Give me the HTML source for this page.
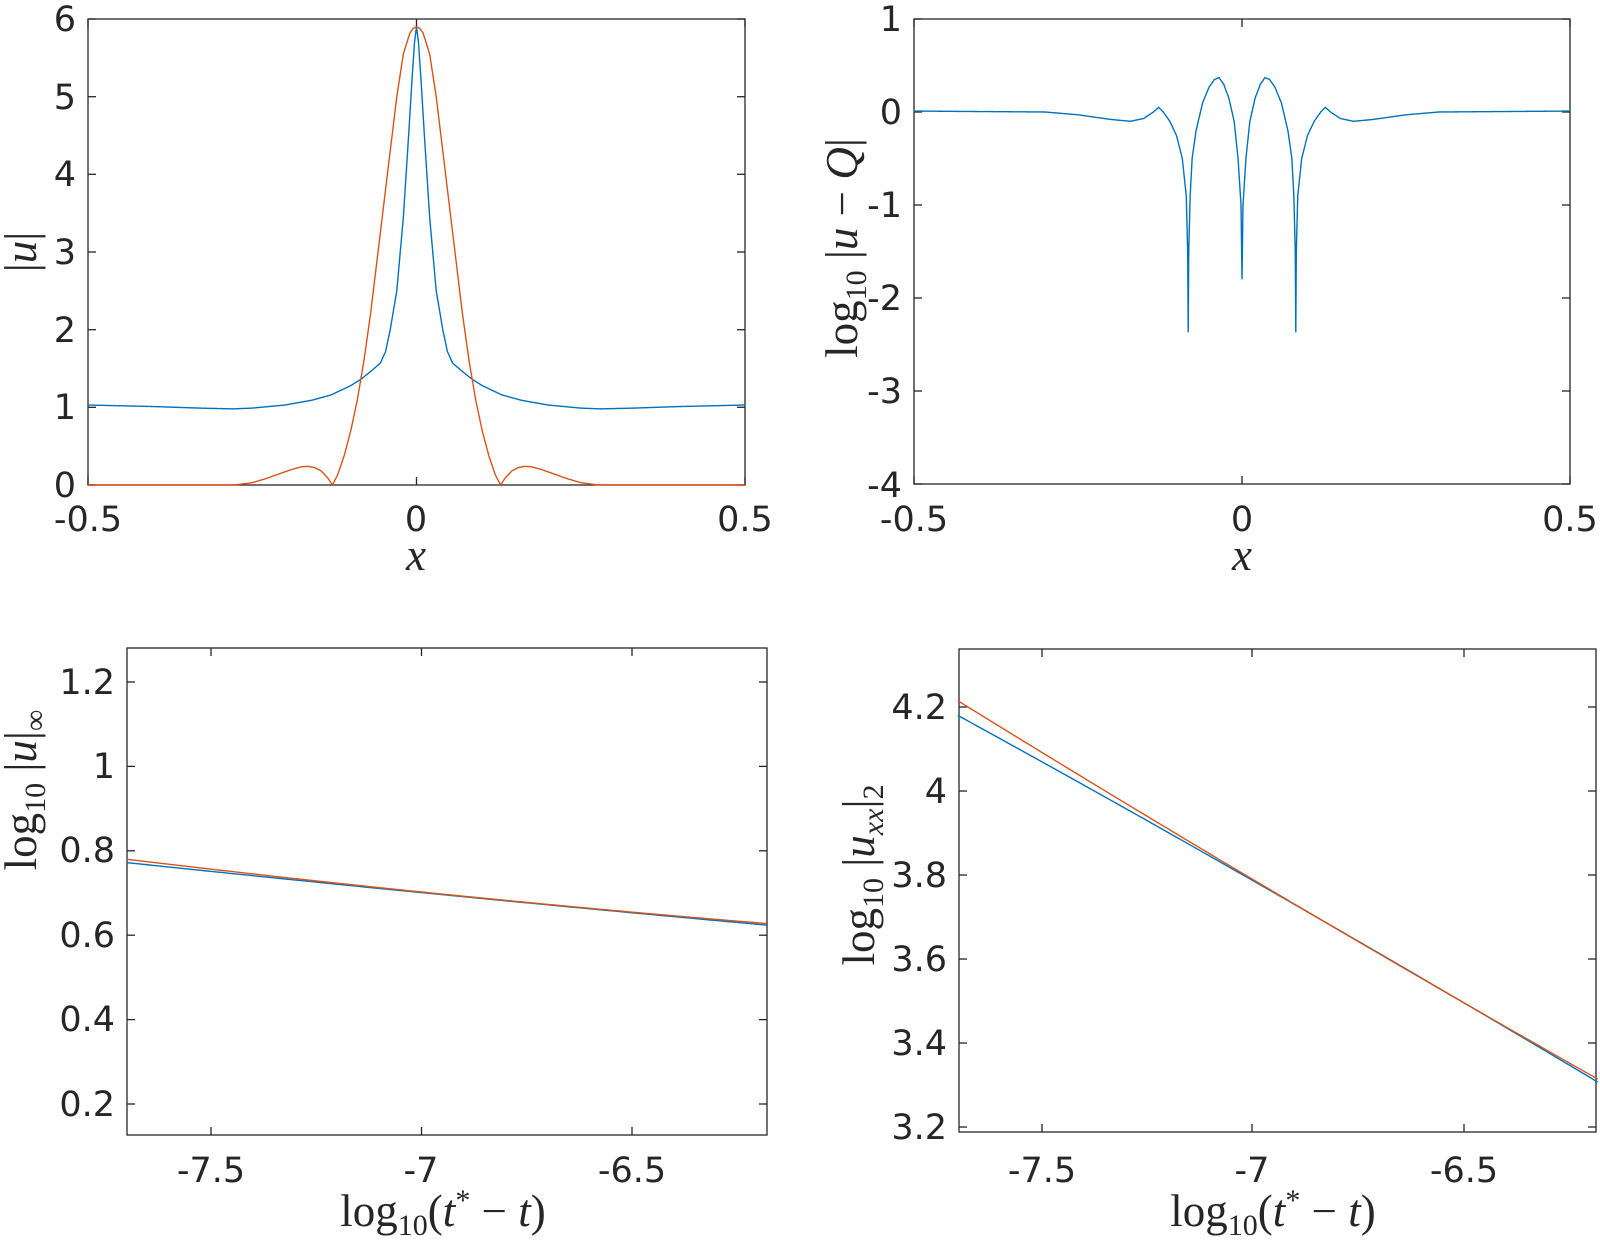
<!DOCTYPE html>
<html><head><meta charset="utf-8"><style>
html,body{margin:0;padding:0;background:#fff;}
svg{display:block;}
.t{font-family:"DejaVu Sans","Liberation Sans",sans-serif;font-size:35px;fill:#262626;}
.m{font-family:"Liberation Serif",serif;font-size:45px;fill:#262626;}
</style></head><body>
<svg id="s" width="1600" height="1242" viewBox="0 0 1600 1242" xmlns="http://www.w3.org/2000/svg">
<g class="t">
<text x="76" y="31" text-anchor="end">6</text>
<text x="76" y="109" text-anchor="end">5</text>
<text x="76" y="186" text-anchor="end">4</text>
<text x="76" y="264" text-anchor="end">3</text>
<text x="76" y="342" text-anchor="end">2</text>
<text x="76" y="419" text-anchor="end">1</text>
<text x="76" y="497" text-anchor="end">0</text>
<text x="88" y="531" text-anchor="middle">-0.5</text>
<text x="416" y="531" text-anchor="middle">0</text>
<text x="745" y="531" text-anchor="middle">0.5</text>
</g>
<text class="m" x="416" y="570" text-anchor="middle" font-style="italic">x</text>
<text class="m" transform="translate(36,252) rotate(-90)" text-anchor="middle">|<tspan font-style="italic">u</tspan>|</text>
<g class="t">
<text x="902" y="31" text-anchor="end">1</text>
<text x="902" y="124" text-anchor="end">0</text>
<text x="902" y="217" text-anchor="end">-1</text>
<text x="902" y="310" text-anchor="end">-2</text>
<text x="902" y="403" text-anchor="end">-3</text>
<text x="902" y="497" text-anchor="end">-4</text>
<text x="914" y="531" text-anchor="middle">-0.5</text>
<text x="1242" y="531" text-anchor="middle">0</text>
<text x="1570" y="531" text-anchor="middle">0.5</text>
</g>
<text class="m" x="1242" y="570" text-anchor="middle" font-style="italic">x</text>
<text class="m" transform="translate(857,248) rotate(-90)" text-anchor="middle">log<tspan font-size="30" dy="9">10</tspan><tspan dy="-9"> |</tspan><tspan font-style="italic">u</tspan> − <tspan font-style="italic">Q</tspan>|</text>
<g class="t">
<text x="115" y="694" text-anchor="end">1.2</text>
<text x="115" y="778" text-anchor="end">1</text>
<text x="115" y="862" text-anchor="end">0.8</text>
<text x="115" y="947" text-anchor="end">0.6</text>
<text x="115" y="1031" text-anchor="end">0.4</text>
<text x="115" y="1116" text-anchor="end">0.2</text>
<text x="211" y="1182" text-anchor="middle">-7.5</text>
<text x="421" y="1182" text-anchor="middle">-7</text>
<text x="632" y="1182" text-anchor="middle">-6.5</text>
</g>
<text class="m" x="443" y="1226" text-anchor="middle">log<tspan font-size="30" dy="9">10</tspan><tspan dy="-9">(</tspan><tspan font-style="italic">t</tspan><tspan font-size="30" dy="-16">*</tspan><tspan dy="16"> − </tspan><tspan font-style="italic">t</tspan>)</text>
<text class="m" transform="translate(36,790) rotate(-90)" text-anchor="middle">log<tspan font-size="30" dy="9">10</tspan><tspan dy="-9"> |</tspan><tspan font-style="italic">u</tspan>|<tspan font-size="30" dy="9">∞</tspan></text>
<g class="t">
<text x="947" y="719" text-anchor="end">4.2</text>
<text x="947" y="803" text-anchor="end">4</text>
<text x="947" y="887" text-anchor="end">3.8</text>
<text x="947" y="971" text-anchor="end">3.6</text>
<text x="947" y="1055" text-anchor="end">3.4</text>
<text x="947" y="1139" text-anchor="end">3.2</text>
<text x="1042" y="1182" text-anchor="middle">-7.5</text>
<text x="1252" y="1182" text-anchor="middle">-7</text>
<text x="1464" y="1182" text-anchor="middle">-6.5</text>
</g>
<text class="m" x="1273" y="1226" text-anchor="middle">log<tspan font-size="30" dy="9">10</tspan><tspan dy="-9">(</tspan><tspan font-style="italic">t</tspan><tspan font-size="30" dy="-16">*</tspan><tspan dy="16"> − </tspan><tspan font-style="italic">t</tspan>)</text>
<text class="m" transform="translate(874,875) rotate(-90)" text-anchor="middle">log<tspan font-size="30" dy="9">10</tspan><tspan dy="-9"> |</tspan><tspan font-style="italic">u</tspan><tspan font-size="30" font-style="italic" dy="9">xx</tspan><tspan dy="-9">|</tspan><tspan font-size="30" dy="9">2</tspan></text>
<g id="plots"></g>
</svg>
<script>
const NS="http://www.w3.org/2000/svg";
const G=document.getElementById("plots");
function el(t,a){const e=document.createElementNS(NS,t);for(const k in a)e.setAttribute(k,a[k]);G.appendChild(e);return e;}
function axes(L,R,T,B,xt,yt){
 el("rect",{x:L,y:T,width:R-L,height:B-T,fill:"none",stroke:"#262626","stroke-width":1.3});
 xt.forEach(x=>{el("line",{x1:x,x2:x,y1:B,y2:B-8,stroke:"#262626","stroke-width":1.3});el("line",{x1:x,x2:x,y1:T,y2:T+8,stroke:"#262626","stroke-width":1.3});});
 yt.forEach(y=>{el("line",{x1:L,x2:L+8,y1:y,y2:y,stroke:"#262626","stroke-width":1.3});el("line",{x1:R,x2:R-8,y1:y,y2:y,stroke:"#262626","stroke-width":1.3});});
}
function interp(pts,x){const a=Math.abs(x);for(let i=1;i<pts.length;i++){if(a<=pts[i][0]){const p=pts[i-1],q=pts[i];return p[1]+(q[1]-p[1])*(a-p[0])/(q[0]-p[0]);}}return pts[pts.length-1][1];}
function curve(fx,fy,pts,col){let d="";for(let i=0;i<=4000;i++){const x=-0.5+i/4000;const y=interp(pts,x);d+=(i?"L":"M")+fx(x).toFixed(2)+","+fy(y).toFixed(2);}el("path",{d:d,fill:"none",stroke:col,"stroke-width":1.4});}
const BLUE="#0072BD",RED="#D95319";
axes(88,745,19,485,[88,416.5,745],[19,96.7,174.3,252,329.7,407.3,485]);
{const fx=x=>88+(x+0.5)*657, fy=y=>485-y*77.67;
curve(fx,fy,[[0,5.9],[0.003,5.7],[0.007,5.2],[0.012,4.5],[0.02,3.45],[0.03,2.5],[0.04,2.0],[0.047,1.72],[0.055,1.57],[0.07,1.46],[0.085,1.36],[0.1,1.28],[0.13,1.16],[0.16,1.09],[0.2,1.03],[0.25,0.99],[0.28,0.98],[0.33,0.99],[0.4,1.01],[0.5,1.03]],BLUE);
curve(fx,fy,[[0,5.9],[0.005,5.88],[0.01,5.82],[0.02,5.55],[0.03,5.0],[0.04,4.3],[0.05,3.6],[0.06,2.9],[0.07,2.2],[0.08,1.6],[0.09,1.1],[0.1,0.7],[0.11,0.38],[0.12,0.13],[0.128,0],[0.135,0.09],[0.145,0.18],[0.155,0.225],[0.165,0.24],[0.175,0.235],[0.19,0.2],[0.21,0.14],[0.23,0.08],[0.25,0.03],[0.27,0.007],[0.28,0],[0.5,0]],RED);}
axes(914,1570,19,484,[914,1242,1570],[19,112,205,298,391,484]);
{const fx=x=>914+(x+0.5)*656, fy=y=>112-y*93;
curve(fx,fy,[[0,-1.8],[0.0015,-1.0],[0.006,-0.5],[0.012,-0.1],[0.02,0.15],[0.028,0.3],[0.035,0.37],[0.042,0.35],[0.05,0.27],[0.06,0.1],[0.07,-0.2],[0.076,-0.5],[0.079,-0.9],[0.0812,-1.5],[0.082,-2.37],[0.0828,-1.5],[0.085,-0.9],[0.091,-0.5],[0.1,-0.25],[0.11,-0.1],[0.12,0.0],[0.127,0.05],[0.135,0.0],[0.15,-0.07],[0.17,-0.1],[0.2,-0.08],[0.25,-0.03],[0.3,0.0],[0.5,0.01]],BLUE);}
axes(127,767,648,1135,[211,421.5,632],[682,766.4,850.8,935.2,1019.6,1104]);
{const fx=v=>211+(v+7.5)*421, fy=y=>682-(y-1.2)*422;
function line(a,b,c,col){let d="";for(let i=0;i<=100;i++){const v=-7.7+1.52*i/100;const y=a+b*(v+7.7)+c*(v+7.7)*(v+7.7);d+=(i?"L":"M")+fx(v).toFixed(2)+","+fy(y).toFixed(2);}el("path",{d:d,fill:"none",stroke:col,"stroke-width":1.4});}
line(0.772,-0.105,0.005,BLUE);line(0.780,-0.12,0.013,RED);}
axes(959,1596,649,1132,[1042,1252,1464],[707,791,875,959,1043,1127]);
{const fx=v=>1042+(v+7.5)*421, fy=y=>707-(y-4.2)*420;
function line(a,b,c,col){let d="";for(let i=0;i<=100;i++){const v=-7.7+1.52*i/100;const y=a+b*(v+7.7)+c*(v+7.7)*(v+7.7);d+=(i?"L":"M")+fx(v).toFixed(2)+","+fy(y).toFixed(2);}el("path",{d:d,fill:"none",stroke:col,"stroke-width":1.4});}
line(4.18,-0.55,-0.016,BLUE);line(4.215,-0.62,0.018,RED);}
</script>
</body></html>
